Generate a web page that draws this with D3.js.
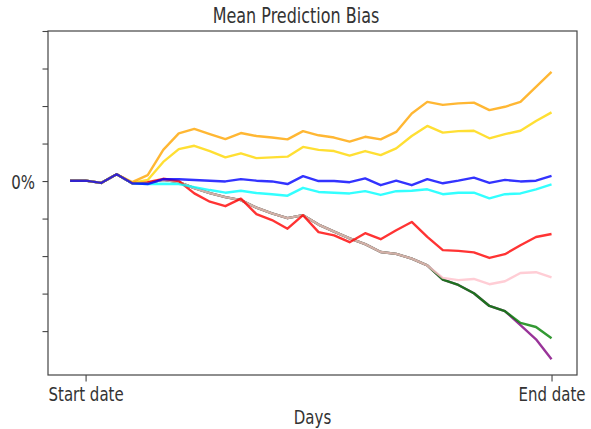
<!DOCTYPE html>
<html>
<head>
<meta charset="utf-8">
<script src="https://cdn.jsdelivr.net/npm/d3@7"></script>
<style>
  body { margin: 0; background: #fff; }
  svg { display: block; font-family: "DejaVu Sans", sans-serif; }
</style>
</head>
<body>
<svg width="591" height="429"></svg>
<script>
// days are just an index, 0..31
var days = d3.range(32);
var xTickValues = [1, 31];
var xTickLabels = ['Start date', 'End date'];
var yTickValues = [-4, -3, -2, -1, 0, 1, 2, 3, 4];

// series values (bias, in tick units)
var orange = [0.01, 0.01, -0.05, 0.18, -0.03, 0.16, 0.83, 1.27, 1.39, 1.25, 1.12, 1.28, 1.20, 1.16, 1.11, 1.33,
  1.22, 1.16, 1.05, 1.18, 1.11, 1.31, 1.80, 2.11, 2.03, 2.07, 2.09, 1.89, 1.98, 2.11, 2.51, 2.91];
var gold = [0.01, 0.01, -0.05, 0.18, -0.05, 0.03, 0.51, 0.85, 0.94, 0.80, 0.63, 0.74, 0.61, 0.63, 0.65, 0.91,
  0.83, 0.80, 0.68, 0.80, 0.69, 0.87, 1.20, 1.47, 1.29, 1.33, 1.34, 1.14, 1.25, 1.34, 1.60, 1.83];
var blue = [0.01, 0.01, -0.05, 0.18, -0.06, -0.08, 0.05, 0.05, 0.03, 0.01, -0.01, 0.05, 0.01, -0.01, -0.08, 0.13,
  0.00, 0.00, -0.03, 0.07, -0.11, 0.01, -0.11, 0.05, -0.06, 0.01, 0.09, -0.05, 0.03, -0.01, 0.01, 0.14];
var cyan = [0.01, 0.01, -0.05, 0.18, -0.06, -0.08, -0.07, -0.08, -0.16, -0.24, -0.31, -0.26, -0.32, -0.35, -0.39, -0.18,
  -0.29, -0.31, -0.33, -0.27, -0.37, -0.27, -0.26, -0.22, -0.35, -0.31, -0.31, -0.46, -0.35, -0.33, -0.22, -0.09];
var red = [0.01, 0.01, -0.05, 0.18, -0.06, -0.03, 0.06, 0.00, -0.33, -0.55, -0.67, -0.47, -0.88, -1.04, -1.27, -0.91,
  -1.36, -1.45, -1.63, -1.39, -1.55, -1.31, -1.09, -1.49, -1.84, -1.86, -1.90, -2.05, -1.95, -1.71, -1.49, -1.41];
var pink = [0.01, 0.01, -0.05, 0.18, -0.06, -0.05, 0.03, -0.03, -0.19, -0.32, -0.43, -0.51, -0.71, -0.86, -0.99, -0.91,
  -1.16, -1.35, -1.53, -1.68, -1.89, -1.94, -2.07, -2.25, -2.58, -2.64, -2.61, -2.75, -2.67, -2.45, -2.43, -2.57];
var green = [0.01, 0.01, -0.05, 0.18, -0.06, -0.05, 0.03, -0.03, -0.19, -0.32, -0.43, -0.51, -0.71, -0.86, -0.99, -0.91,
  -1.16, -1.35, -1.53, -1.68, -1.89, -1.94, -2.07, -2.25, -2.63, -2.77, -2.99, -3.33, -3.47, -3.78, -3.89, -4.19];
var purple = [0.01, 0.01, -0.05, 0.18, -0.06, -0.05, 0.03, -0.03, -0.19, -0.32, -0.43, -0.51, -0.71, -0.86, -0.99, -0.91,
  -1.16, -1.35, -1.53, -1.68, -1.89, -1.94, -2.07, -2.25, -2.63, -2.77, -2.99, -3.33, -3.47, -3.84, -4.22, -4.75];

// drawing order, last one on top
var series = [
  {color: 'purple', values: purple},
  {color: 'green', values: green},
  {color: 'pink', values: pink},
  {color: 'red', values: red},
  {color: 'cyan', values: cyan},
  {color: 'gold', values: gold},
  {color: 'orange', values: orange},
  {color: 'blue', values: blue}
];

var svg = d3.select('svg');
var plotLeft = 48, plotRight = 577, plotTop = 31, plotBottom = 375;
var stretch = 1.3; // the source picture is taller than it is wide, text looks stretched

var x = d3.scaleLinear().domain([-1.42, 32.64]).range([plotLeft, plotRight]);
var y = d3.scaleLinear().domain([-5.17, 4]).range([plotBottom, plotTop]);

var line = d3.line()
  .x(function(d, i) { return x(days[i]); })
  .y(function(d) { return y(d); });

svg.append('g')
  .selectAll('path')
  .data(series)
  .enter().append('path')
    .attr('d', function(d) { return line(d.values); })
    .attr('fill', 'none')
    .attr('stroke', function(d) { return d.color; })
    .attr('stroke-opacity', 0.8)
    .attr('stroke-width', 2.4)
    .attr('stroke-linejoin', 'round');

// frame
svg.append('rect')
  .attr('x', plotLeft).attr('y', plotTop)
  .attr('width', plotRight - plotLeft).attr('height', plotBottom - plotTop)
  .attr('fill', 'none')
  .attr('stroke', '#444')
  .attr('stroke-width', 1.2);

var yAxis = svg.append('g')
  .attr('transform', 'translate(' + plotLeft + ',0)')
  .call(d3.axisLeft(y)
    .tickValues(yTickValues)
    .tickSize(5.5)
    .tickFormat(function(d) { return d === 0 ? '0%' : ''; }));

var xAxis = svg.append('g')
  .attr('transform', 'translate(0,' + plotBottom + ')')
  .call(d3.axisBottom(x)
    .tickValues(xTickValues)
    .tickSize(6.5)
    .tickFormat(function(d, i) { return xTickLabels[i]; }));

[yAxis, xAxis].forEach(function(a) {
  a.select('.domain').remove();
  a.selectAll('line').attr('stroke', '#444').attr('stroke-width', 1.1);
  a.selectAll('text')
    .attr('fill', '#333')
    .style('font-size', '15px')
    .style('font-family', '"DejaVu Sans", sans-serif');
});

// baseline positions, drawn in a vertically stretched frame
yAxis.selectAll('text')
  .attr('x', -13).attr('dy', null)
  .attr('y', 7.3 / stretch)
  .attr('transform', 'scale(1,' + stretch + ')');
xAxis.selectAll('text')
  .attr('dy', null)
  .attr('y', 26 / stretch)
  .attr('transform', 'scale(1,' + stretch + ')');

function stretchedText(cx, baseline, size, str) {
  svg.append('text')
    .attr('transform', 'translate(' + cx + ',' + baseline + ') scale(1,' + stretch + ')')
    .attr('text-anchor', 'middle')
    .attr('fill', '#333')
    .style('font-size', size + 'px')
    .text(str);
}

stretchedText(296, 22.5, 16, 'Mean Prediction Bias');
stretchedText((plotLeft + plotRight) / 2, 424, 15, 'Days');
</script>
</body>
</html>
